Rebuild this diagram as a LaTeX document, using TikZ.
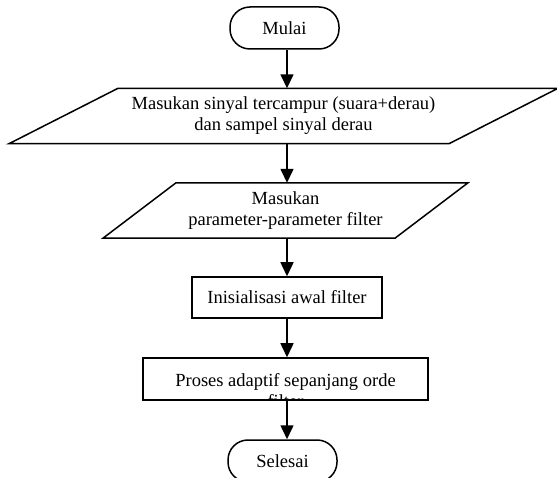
\documentclass[tikz,border=0pt]{standalone}
\usepackage{fontspec}
\setmainfont{Liberation Serif}
\usetikzlibrary{arrows.meta}
\begin{document}
\begin{tikzpicture}[x=1pt,y=-1pt,
  every node/.style={font=\fontsize{18.5}{21}\selectfont, inner sep=0pt},
  line/.style={line width=1.5pt},
  term/.style={draw, line width=1.5pt, rounded corners=20pt, minimum height=42pt},
  box/.style={draw, line width=1.5pt},
  para/.style={minimum height=55pt, align=center},
  flow/.style={line width=1.5pt, -{Triangle[length=14pt,width=13pt]}}]
\useasboundingbox (0,0) rectangle (557,478);
\coordinate (axis) at (287,0);
% terminator start
\node[term, minimum width=109pt] (mulai) at (284.5,28) {Mulai};
% input 1
\node[para] (p1) at (283.5,116) {Masukan sinyal tercampur (suara+derau)\\dan sampel sinyal derau};
\draw[line] ([xshift=-165.5pt]p1.north) -- ([xshift=274.5pt]p1.north) -- ([xshift=165.5pt]p1.south) -- ([xshift=-274.5pt]p1.south) -- cycle;
% input 2
\node[para] (p2) at (285.5,210.5) {Masukan\\parameter-parameter filter};
\draw[line] ([xshift=-109.5pt]p2.north) -- ([xshift=182.5pt]p2.north) -- ([xshift=109.5pt]p2.south) -- ([xshift=-182.5pt]p2.south) -- cycle;
% process 1
\node[box, minimum width=190pt, minimum height=41pt] (r1) at (287,297.5) {Inisialisasi awal filter};
% process 2 (text clipped by box)
\node[box, minimum width=285pt, minimum height=42pt] (r2) at (285.5,379) {};
\begin{scope}
  \clip (r2.south west) rectangle (r2.north east);
  \node[align=center] (r2text) at (285.5,390.5) {Proses adaptif sepanjang orde\\filter};
\end{scope}
% terminator end
\node[term, minimum width=109pt] (selesai) at (282.5,461) {Selesai};
% connectors
\draw[flow] (mulai.south -| axis) -- (p1.north -| axis);
\draw[flow] (p1.south -| axis) -- (p2.north -| axis);
\draw[flow] (p2.south -| axis) -- (r1.north -| axis);
\draw[flow] (r1.south -| axis) -- (r2.north -| axis);
\draw[flow] (r2.south -| axis) -- (selesai.north -| axis);
\end{tikzpicture}
\end{document}
